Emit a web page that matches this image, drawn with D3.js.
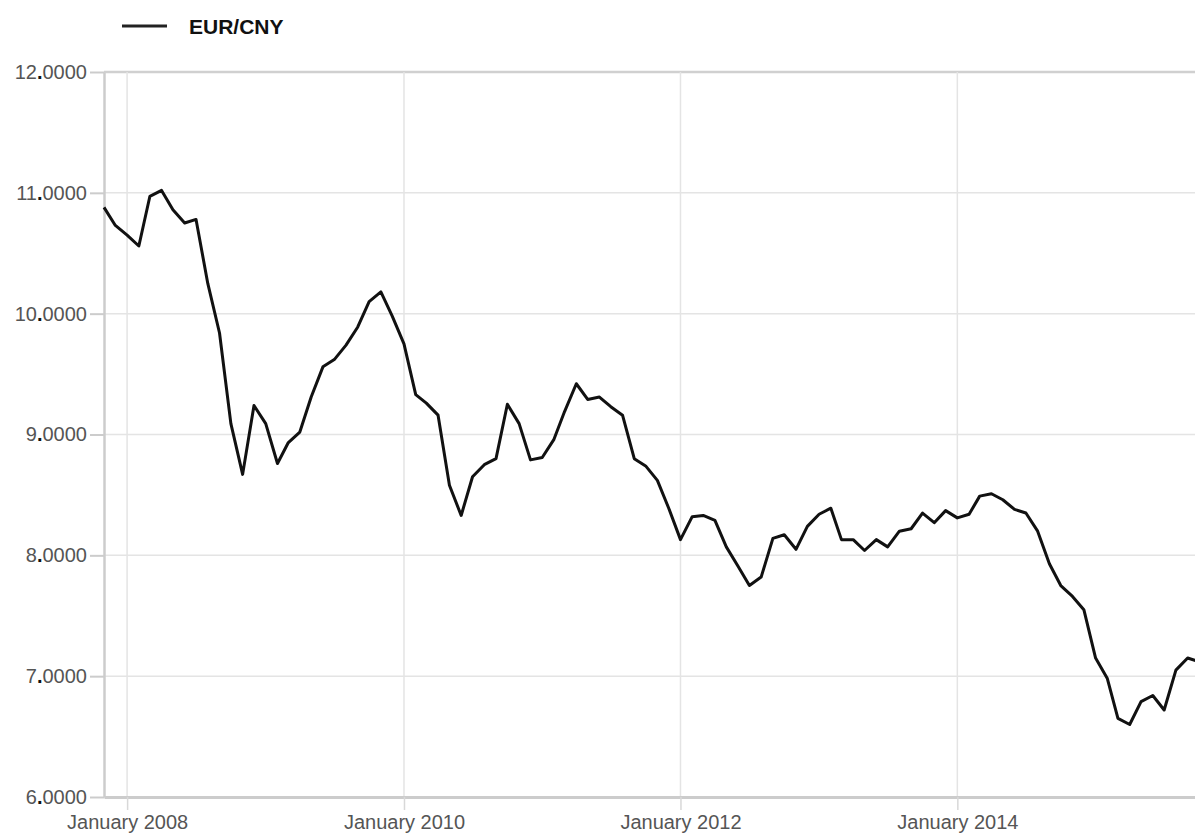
<!DOCTYPE html>
<html>
<head>
<meta charset="utf-8">
<script src="https://cdn.jsdelivr.net/npm/d3@7"></script>
<style>
  body { margin: 0; background: #fff; }
  #content text { font-family: "Liberation Sans", Arial, Helvetica, sans-serif; }
</style>
</head>
<body>
<div id="content"></div>
<script>
var seriesName = "EUR/CNY";
var startMonth = "2007-11";
var rates = [
  10.88, 10.73,
  10.65, 10.56, 10.97, 11.02, 10.86, 10.75, 10.78, 10.25, 9.84, 9.09, 8.67, 9.24,
  9.09, 8.76, 8.93, 9.02, 9.31, 9.56, 9.62, 9.74, 9.89, 10.10, 10.18, 9.98,
  9.75, 9.33, 9.26, 9.16, 8.58, 8.33, 8.65, 8.75, 8.80, 9.25, 9.09, 8.79,
  8.81, 8.96, 9.19, 9.42, 9.29, 9.31, 9.23, 9.16, 8.80, 8.74, 8.62, 8.39,
  8.13, 8.32, 8.33, 8.29, 8.07, 7.91, 7.75, 7.82, 8.14, 8.17, 8.05, 8.24,
  8.34, 8.39, 8.13, 8.13, 8.04, 8.13, 8.07, 8.20, 8.22, 8.35, 8.27, 8.37,
  8.31, 8.34, 8.49, 8.51, 8.46, 8.38, 8.35, 8.20, 7.93, 7.75, 7.66, 7.55,
  7.15, 6.98, 6.65, 6.60, 6.79, 6.84, 6.72, 7.05, 7.15, 7.12
];
var yTicks = [6, 7, 8, 9, 10, 11, 12];
var xTicks = ["2008-01", "2010-01", "2012-01", "2014-01"];

var parseMonth = d3.timeParse("%Y-%m");
var start = parseMonth(startMonth);
var data = rates.map(function (r, i) {
  return { date: d3.timeMonth.offset(start, i), rate: r };
});

var width = 1195, height = 834;
var margin = { top: 72, left: 104, bottom: 37 };

var x = d3.scaleTime()
    .domain(d3.extent(data, function (d) { return d.date; }))
    .range([margin.left, 1199]);
var y = d3.scaleLinear()
    .domain([6, 12])
    .range([height - margin.bottom, margin.top]);

var svg = d3.select("#content").append("svg")
    .attr("width", width)
    .attr("height", height);

// grid
svg.append("g")
    .selectAll("line")
    .data(yTicks)
    .join("line")
    .attr("x1", margin.left).attr("x2", width)
    .attr("y1", function (d) { return y(d); })
    .attr("y2", function (d) { return y(d); })
    .attr("stroke", function (d) { return d == 12 ? "#d0d0d0" : "#e4e4e4"; })
    .attr("stroke-width", function (d) { return d == 12 ? 2.5 : 1.5; });
svg.append("g")
    .selectAll("line")
    .data(xTicks.map(parseMonth))
    .join("line")
    .attr("x1", function (d) { return x(d); })
    .attr("x2", function (d) { return x(d); })
    .attr("y1", margin.top).attr("y2", y(6))
    .attr("stroke", "#e4e4e4")
    .attr("stroke-width", 1.5);

// y axis
var yAxis = svg.append("g")
    .attr("transform", "translate(" + margin.left + ",0)")
    .call(d3.axisLeft(y).tickValues(yTicks).tickSize(14).tickSizeOuter(0).tickPadding(3)
      .tickFormat(d3.format(".4f")));
yAxis.select(".domain").attr("stroke", "#cccccc").attr("stroke-width", 2.5);
yAxis.selectAll(".tick line").attr("stroke", "#cccccc").attr("stroke-width", 2);
yAxis.selectAll(".tick text")
    .attr("fill", "#555")
    .style("font-size", "20px")
    .each(function () {
      // darker decimal point like the original
      var t = d3.select(this), parts = t.text().split(".");
      t.text(null);
      t.append("tspan").text(parts[0]);
      t.append("tspan").attr("fill", "#111").style("font-weight", "bold").text(".");
      t.append("tspan").text(parts[1]);
    });

// x axis
var xAxis = svg.append("g")
    .attr("transform", "translate(0," + y(6) + ")")
    .call(d3.axisBottom(x).tickValues(xTicks.map(parseMonth)).tickSize(13).tickSizeOuter(0).tickPadding(5)
      .tickFormat(d3.timeFormat("%B %Y")));
xAxis.select(".domain").attr("stroke", "#cccccc").attr("stroke-width", 3);
xAxis.selectAll(".tick line").attr("stroke", "#d8d8d8").attr("stroke-width", 1.5);
xAxis.selectAll(".tick text")
    .attr("fill", "#555")
    .style("font-size", "20px");

// line
var line = d3.line()
    .x(function (d) { return x(d.date); })
    .y(function (d) { return y(d.rate); });
svg.append("path")
    .datum(data)
    .attr("fill", "none")
    .attr("stroke", "#111")
    .attr("stroke-width", 3)
    .attr("stroke-linejoin", "round")
    .attr("d", line);

// legend
var legend = svg.append("g").attr("transform", "translate(122,26)");
legend.append("line")
    .attr("x1", 0).attr("x2", 45)
    .attr("stroke", "#222").attr("stroke-width", 3);
legend.append("text")
    .attr("x", 67).attr("y", 0)
    .attr("dy", "0.36em")
    .attr("fill", "#111")
    .style("font-size", "21px")
    .style("font-weight", "bold")
    .text(seriesName);
</script>
</body>
</html>
